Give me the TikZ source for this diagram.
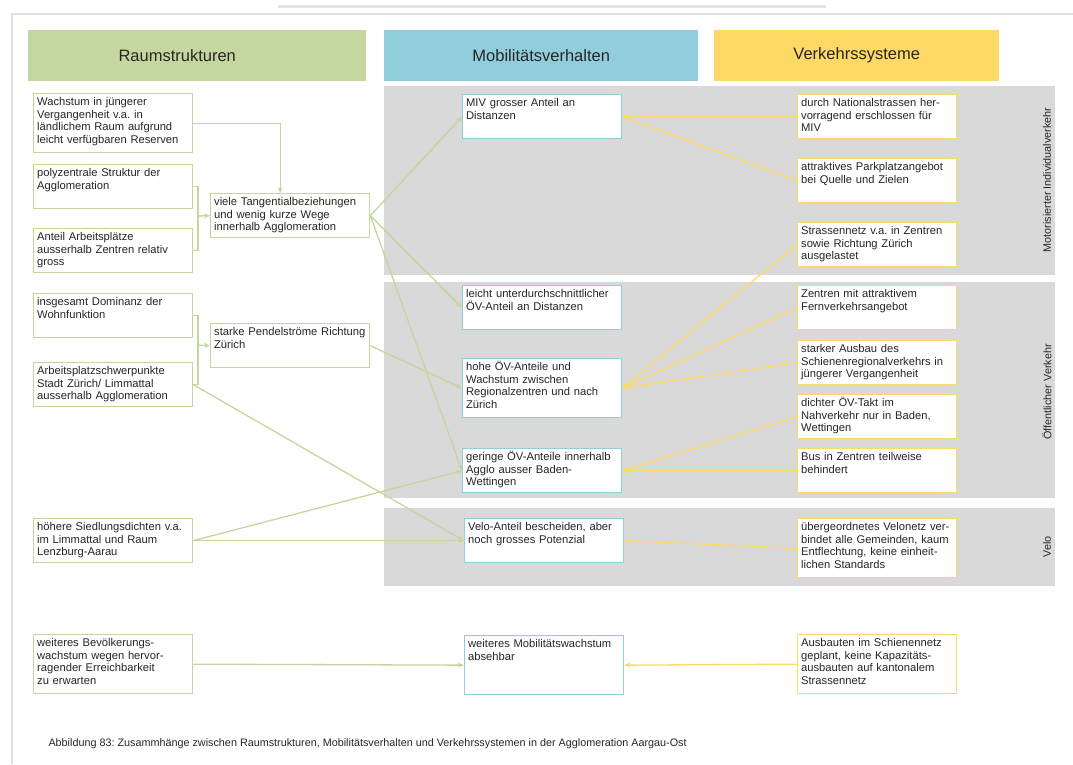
\documentclass[tikz,border=0pt]{standalone}
\usepackage{fontspec}
\setmainfont{Liberation Sans}
\usepackage{xcolor}
\usetikzlibrary{arrows.meta}
\frenchspacing
\definecolor{raumgreen}{HTML}{C4D79F}
\definecolor{raumline}{HTML}{C3D69B}
\definecolor{mobblue}{HTML}{92CDDC}
\definecolor{verkyellow}{HTML}{FFD966}
\definecolor{bandgray}{HTML}{D9D9D9}
\tikzstyle{header} = [rectangle, anchor=north west, minimum height=51pt, font=\fontsize{16.5}{19}\selectfont, text=black!85]
\tikzstyle{box} = [rectangle, anchor=north west, fill=white, line width=1.3pt, text width=152pt, align=left, inner xsep=3.5pt, inner ysep=4pt, text height=8pt, font=\fontsize{11.2}{12.6}\selectfont, text=black!85]
\tikzstyle{raum} = [box, draw=raumline]
\tikzstyle{mob} = [box, draw=mobblue]
\tikzstyle{verk} = [box, draw=verkyellow]
\tikzstyle{short} = [text depth=28pt]
\tikzstyle{tall} = [text depth=43pt]
\tikzstyle{band} = [fill=bandgray]
\tikzstyle{sidelabel} = [rotate=90, font=\fontsize{10.8}{12}\selectfont, text=black!85]
\tikzstyle{greenline} = [raumline, line width=1.3pt]
\tikzstyle{greenarrow} = [-{Stealth[length=6pt,width=5pt]}, raumline, line width=1.3pt]
\tikzstyle{yellowarrow} = [-{Stealth[length=6pt,width=5pt]}, verkyellow, line width=1.3pt]
\begin{document}
\begin{tikzpicture}[x=1pt, y=-1pt]
\useasboundingbox (0,0) rectangle (1073,764);

% page frame
\draw[gray!20, line width=3pt] (278,6) -- (826,6);
\draw[gray!25, line width=1.5pt] (12,764) -- (12,14) -- (1073,14);

% grey bands
\fill[band] (384,86) rectangle (1055,275);
\fill[band] (384,282) rectangle (1055,498);
\fill[band] (384,508) rectangle (1055,586);
\node[sidelabel] (mivlabel) at (1047,180) {Motorisierter Individualverkehr};
\node[sidelabel] (oevlabel) at (1047,392) {Öffentlicher Verkehr};
\node[sidelabel] (velolabel) at (1047,547) {Velo};

% headers
\node[header, fill=raumgreen, minimum width=338pt] (hraum) at (28,30) {\hspace*{-40pt}Raumstrukturen};
\node[header, fill=mobblue, minimum width=314pt] (hmob) at (384,30) {Mobilitätsverhalten};
\node[header, fill=verkyellow, minimum width=285pt] (hverk) at (714,30) {Verkehrssysteme};

% Raumstrukturen
\node[raum, tall] (wachstum) at (33,93) {Wachstum in jüngerer\\Vergangenheit v.a. in\\ländlichem Raum aufgrund\\leicht verfügbaren Reserven};
\node[raum, short] (polyzentral) at (33,164) {polyzentrale Struktur der\\Agglomeration};
\node[raum, short] (anteil) at (33,228) {Anteil Arbeitsplätze\\ausserhalb Zentren relativ\\gross};
\node[raum, short] (tangential) at (210,193) {viele Tangentialbeziehungen\\und wenig kurze Wege\\innerhalb Agglomeration};
\node[raum, short] (dominanz) at (33,293) {insgesamt Dominanz der\\Wohnfunktion};
\node[raum, short] (schwerpunkte) at (33,362) {Arbeitsplatzschwerpunkte\\Stadt Zürich/ Limmattal\\ausserhalb Agglomeration};
\node[raum, short] (pendel) at (210,323) {starke Pendelströme Richtung\\Zürich};
\node[raum, short] (siedlung) at (33,518) {höhere Siedlungsdichten v.a.\\im Limmattal und Raum\\Lenzburg-Aarau};
\node[raum, tall] (bevoelkerung) at (33,634) {weiteres Bevölkerungs-\\wachstum wegen hervor-\\ragender Erreichbarkeit\\zu erwarten};

% Mobilitaetsverhalten
\node[mob, short] (miv) at (462,94) {MIV grosser Anteil an\\Distanzen};
\node[mob, short] (oevdist) at (462,285) {leicht unterdurchschnittlicher\\ÖV-Anteil an Distanzen};
\node[mob, tall] (oevhoch) at (462,358) {hohe ÖV-Anteile und\\Wachstum zwischen\\Regionalzentren und nach\\Zürich};
\node[mob, short] (oevgering) at (462,448) {geringe ÖV-Anteile innerhalb\\Agglo ausser Baden-\\Wettingen};
\node[mob, short] (velo) at (464,518) {Velo-Anteil bescheiden, aber\\noch grosses Potenzial};
\node[mob, tall] (mobwachs) at (464,635) {weiteres Mobilitätswachstum\\absehbar};

% Verkehrssysteme
\node[verk, short] (national) at (797,94) {durch Nationalstrassen her-\\vorragend erschlossen für\\MIV};
\node[verk, short] (parkplatz) at (797,158) {attraktives Parkplatzangebot\\bei Quelle und Zielen};
\node[verk, short] (strassennetz) at (797,222) {Strassennetz v.a. in Zentren\\sowie Richtung Zürich\\ausgelastet};
\node[verk, short] (fernverkehr) at (797,285) {Zentren mit attraktivem\\Fernverkehrsangebot};
\node[verk, short] (schiene) at (797,340) {starker Ausbau des\\Schienenregionalverkehrs in\\jüngerer Vergangenheit};
\node[verk, short] (takt) at (797,394) {dichter ÖV-Takt im\\Nahverkehr nur in Baden,\\Wettingen};
\node[verk, short] (bus) at (797,448) {Bus in Zentren teilweise\\behindert};
\node[verk, tall] (velonetz) at (797,518) {übergeordnetes Velonetz ver-\\bindet alle Gemeinden, kaum\\Entflechtung, keine einheit-\\lichen Standards};
\node[verk, tall] (ausbauten) at (797,634) {Ausbauten im Schienennetz\\geplant, keine Kapazitäts-\\ausbauten auf kantonalem\\Strassennetz};

% brackets on the left
\coordinate (brkT) at (198,216);
\coordinate (brkP) at (198,345);
\draw[greenarrow] (wachstum.east) -| ([xshift=-10pt]tangential.north);
\draw[greenline] (polyzentral.east) -| (brkT) |- (anteil.east);
\draw[greenarrow] (brkT) -- (tangential.west);
\draw[greenline] (dominanz.east) -| (brkP) |- (schwerpunkte.east);
\draw[greenarrow] (brkP) -- (pendel.west);

% green arrows to Mobilitaetsverhalten
\draw[greenarrow] (tangential.east) -- (miv.west);
\draw[greenarrow] (tangential.east) -- (oevdist.west);
\draw[greenarrow] (tangential.east) -- (oevgering.west);
\draw[greenarrow] (pendel.east) -- (oevhoch.west);
\draw[greenarrow] (schwerpunkte.east) -- (velo.west);
\draw[greenarrow] (siedlung.east) -- (oevgering.west);
\draw[greenarrow] (siedlung.east) -- (velo.west);
\draw[greenarrow] (bevoelkerung.east) -- (mobwachs.west);

% yellow arrows from Verkehrssysteme
\draw[yellowarrow] (national.west) -- (miv.east);
\draw[yellowarrow] (parkplatz.west) -- (miv.east);
\draw[yellowarrow] (strassennetz.west) -- (oevhoch.east);
\draw[yellowarrow] (fernverkehr.west) -- (oevhoch.east);
\draw[yellowarrow] (schiene.west) -- (oevhoch.east);
\draw[yellowarrow] (takt.west) -- (oevgering.east);
\draw[yellowarrow] (bus.west) -- (oevgering.east);
\draw[yellowarrow] (velonetz.west) -- (velo.east);
\draw[yellowarrow] (ausbauten.west) -- (mobwachs.east);

% caption
\node[anchor=west, font=\fontsize{10.8}{12}\selectfont, text=black!85] (caption) at (45,744) {Abbildung 83: Zusammhänge zwischen Raumstrukturen, Mobilitätsverhalten und Verkehrssystemen in der Agglomeration Aargau-Ost};
\end{tikzpicture}
\end{document}
